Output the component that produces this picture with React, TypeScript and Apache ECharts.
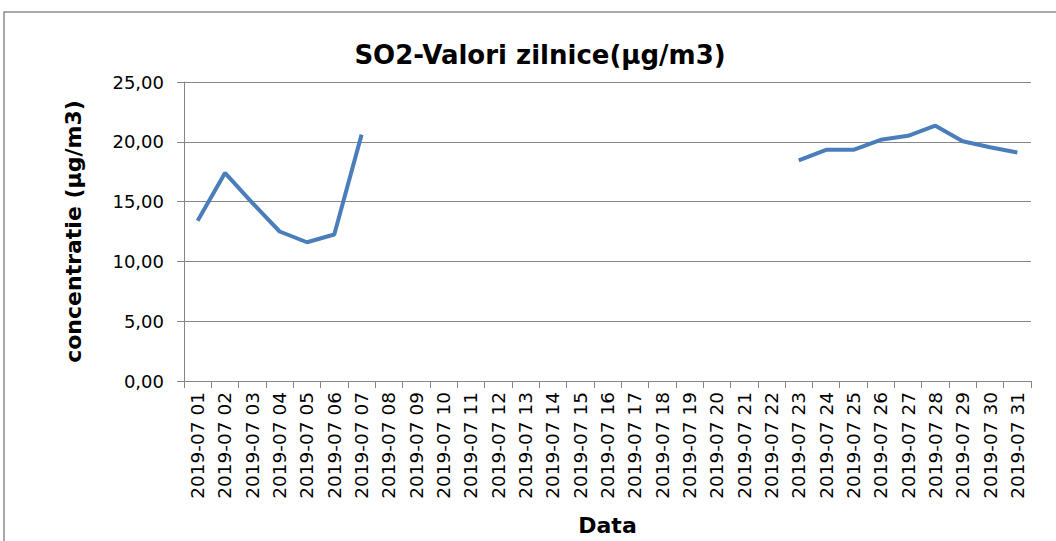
import React, { useEffect, useRef } from "react";
import * as echarts from "echarts";

const days: string[] = Array.from({ length: 31 }, (_, i) => `2019-07 ${String(i + 1).padStart(2, "0")}`);
const so2Values: (number | null)[] = [
  13.4, 17.4, 14.9, 12.5, 11.6, 12.25, 20.6,
  null, null, null, null, null, null, null, null, null, null, null, null, null, null, null,
  18.45, 19.33, 19.33, 20.17, 20.5, 21.35, 20.05, 19.55, 19.1,
];
const titleText = "SO2-Valori zilnice(µg/m3)";
const yAxisTitle = "concentratie (µg/m3)";
const xAxisTitle = "Data";

export default function App() {
  const ref = useRef<HTMLDivElement>(null);
  useEffect(() => {
    document.body.style.margin = "0";
    const chart = echarts.init(ref.current!, null, { renderer: "svg" });
    const font = "'DejaVu Sans', Verdana, sans-serif";
    chart.setOption({
      animation: false,
      backgroundColor: "#ffffff",
      textStyle: { fontFamily: font },
      title: {
        text: titleText,
        left: 535,
        top: 37,
        textAlign: "center",
        textStyle: { fontFamily: font, fontSize: 26, fontWeight: "bold", color: "#000" },
      },
      graphic: [
        {
          type: "rect",
          shape: { x: 4, y: 12, width: 1100, height: 600 },
          style: { fill: "none", stroke: "#8c8c8c", lineWidth: 1.5 },
          silent: true,
        },
      ],
      grid: { left: 184, right: 25, top: 82, bottom: 159 },
      xAxis: {
        type: "category",
        data: days,
        boundaryGap: true,
        name: xAxisTitle,
        nameLocation: "middle",
        nameGap: 133,
        nameTextStyle: { fontFamily: font, fontSize: 22, fontWeight: "bold", color: "#000" },
        axisLine: { lineStyle: { color: "#868686", width: 1 } },
        axisTick: { show: true, interval: 0, length: 7, lineStyle: { color: "#868686" } },
        axisLabel: { interval: 0, rotate: 90, fontSize: 18.5, color: "#000", margin: 11, fontFamily: font },
        splitLine: { show: false },
      },
      yAxis: {
        type: "value",
        min: 0,
        max: 25,
        interval: 5,
        name: yAxisTitle,
        nameLocation: "middle",
        nameGap: 100,
        nameTextStyle: { fontFamily: font, fontSize: 22, fontWeight: "bold", color: "#000" },
        axisLine: { show: true, lineStyle: { color: "#868686", width: 1 } },
        axisTick: { show: true, length: 7, lineStyle: { color: "#868686" } },
        axisLabel: {
          fontSize: 18,
          color: "#000",
          margin: 20,
          fontFamily: font,
          formatter: (v: number) => v.toFixed(2).replace(".", ","),
        },
        splitLine: { show: true, lineStyle: { color: "#868686", width: 1 } },
      },
      series: [
        {
          type: "line",
          data: so2Values,
          connectNulls: false,
          showSymbol: false,
          symbol: "none",
          lineStyle: { color: "#4a7ebb", width: 4 },
          itemStyle: { color: "#4a7ebb" },
        },
      ],
    });
    return () => chart.dispose();
  }, []);
  return <div ref={ref} style={{ width: 1056, height: 541 }} />;
}
